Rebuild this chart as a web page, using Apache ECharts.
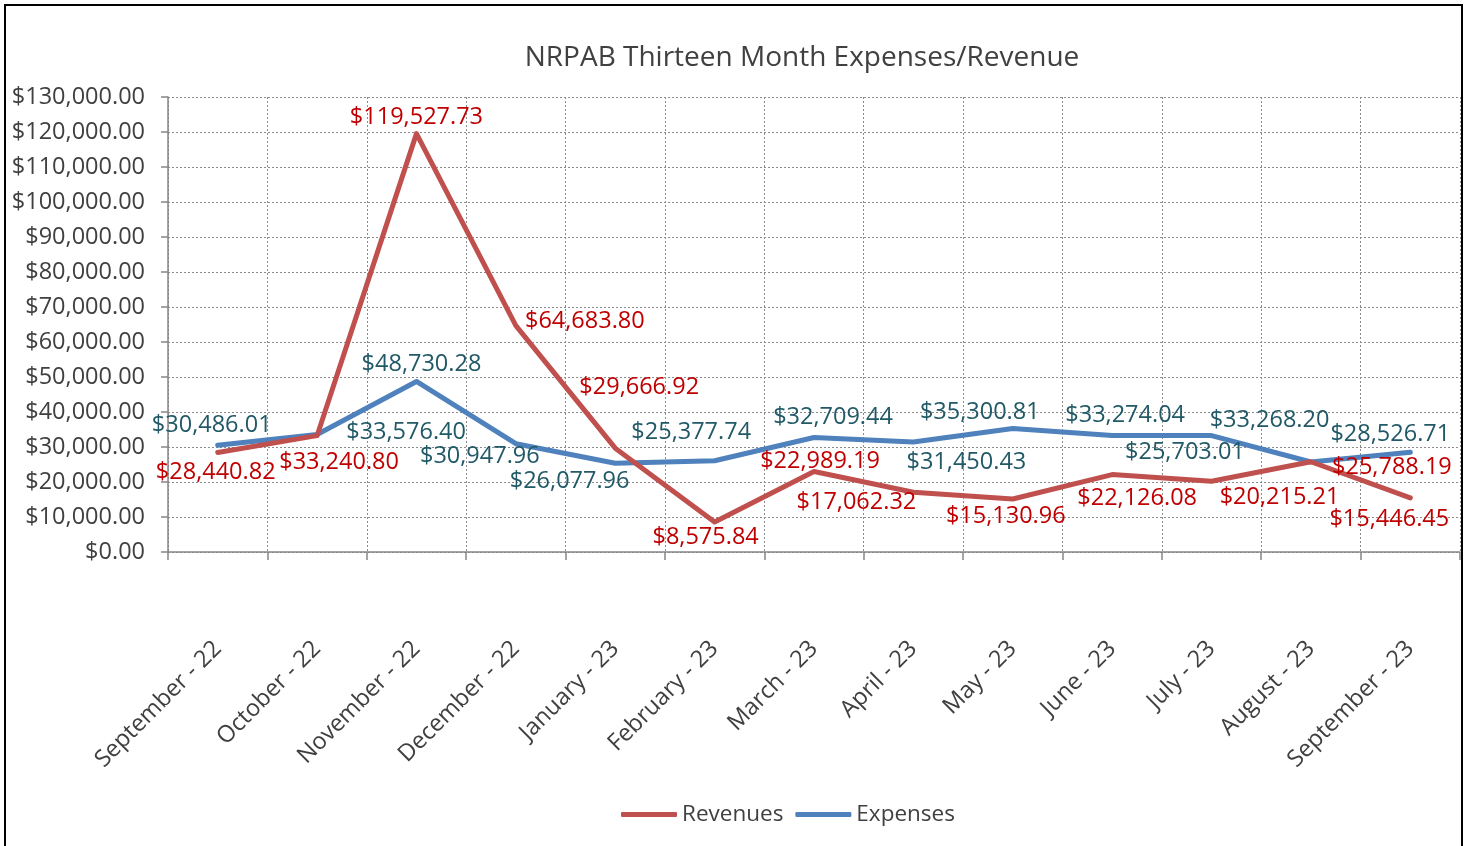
<!DOCTYPE html>
<html>
<head>
<meta charset="utf-8">
<title>NRPAB Thirteen Month Expenses/Revenue</title>
<script src="https://cdn.jsdelivr.net/npm/echarts@6/dist/echarts.min.js"></script>
<style>
html, body { margin: 0; padding: 0; background: #fff; overflow: hidden; }
#chart { width: 1468px; height: 846px; }
#frame {
  position: absolute; left: 4px; top: 4px; width: 1459px; height: 900px;
  border: 2px solid #000; box-sizing: border-box; pointer-events: none;
}
</style>
</head>
<body>
<div id="chart"></div>
<div id="frame"></div>
<script>
const months = ['September - 22', 'October - 22', 'November - 22', 'December - 22', 'January - 23',
  'February - 23', 'March - 23', 'April - 23', 'May - 23', 'June - 23', 'July - 23', 'August - 23',
  'September - 23'];

const revenues = [28440.82, 33240.80, 119527.73, 64683.80, 29666.92, 8575.84, 22989.19,
  17062.32, 15130.96, 22126.08, 20215.21, 25788.19, 15446.45];

const expenses = [30486.01, 33576.40, 48730.28, 30947.96, 25377.74, 26077.96, 32709.44,
  31450.43, 35300.81, 33274.04, 33268.20, 25703.01, 28526.71];

// where each data label sits, relative to its point (px)
const revLabelOffsets = [[-2, 20], [22, 27], [0, -16], [69, -4], [24, -61], [-9, 15], [6, -10],
  [-57, 10], [-7, 17], [25, 24], [68, 16], [81, 6], [-21, 21]];
const expLabelOffsets = [[-6, -20], [89, -2], [5, -17], [-36, 13], [76, -31], [-145, 21], [19, -20],
  [53, 20], [-33, -16], [13, -20], [58, -15], [-126, -10], [-20, -18]];

const FONT = '"Open Sans", "Noto Sans", sans-serif';
const TXT = 23.5;

function money(v) {
  return '$' + v.toFixed(2).replace(/\B(?=(\d{3})+(?!\d))/g, ',');
}

function withLabels(values, offsets) {
  return values.map((v, i) => ({value: v, label: {offset: offsets[i]}}));
}

const chart = echarts.init(document.getElementById('chart'));

chart.setOption({
  animation: false,
  textStyle: {fontFamily: FONT},
  graphic: [{
    type: 'text',
    x: 802,
    y: 58,
    style: {
      text: 'NRPAB Thirteen Month Expenses/Revenue',
      fill: '#404040',
      font: '28px ' + FONT,
      textAlign: 'center',
      textVerticalAlign: 'middle'
    }
  }],
  legend: {
    left: 616,
    top: 798,
    icon: 'roundRect',
    itemWidth: 56,
    itemHeight: 5,
    itemGap: 12,
    textStyle: {fontSize: 22.5, color: '#404040', fontFamily: FONT},
    data: ['Revenues', 'Expenses']
  },
  grid: {left: 168, right: 8, top: 97, bottom: 294},
  xAxis: {
    type: 'category',
    data: months,
    boundaryGap: true,
    axisLine: {lineStyle: {color: '#868686', width: 1.5}},
    axisTick: {show: true, interval: 0, length: 8, lineStyle: {color: '#868686', width: 1.5}},
    axisLabel: {interval: 0, rotate: 45, margin: 93, fontSize: TXT, color: '#404040', fontFamily: FONT},
    splitLine: {show: true, interval: 0, lineStyle: {color: '#8c8c8c', width: 1, type: [2, 2]}}
  },
  yAxis: {
    type: 'value',
    min: 0,
    max: 130000,
    interval: 10000,
    axisLine: {show: true, lineStyle: {color: '#868686', width: 1.5}},
    axisTick: {show: true, length: 7, lineStyle: {color: '#868686', width: 1.5}},
    axisLabel: {margin: 23, fontSize: TXT, color: '#404040', fontFamily: FONT, formatter: v => money(v)},
    splitLine: {show: true, lineStyle: {color: '#8c8c8c', width: 1, type: [2, 2]}}
  },
  series: [
    {
      name: 'Revenues',
      type: 'line',
      data: withLabels(revenues, revLabelOffsets),
      symbol: 'circle',
      symbolSize: 2,
      itemStyle: {color: '#C0504D'},
      lineStyle: {color: '#C0504D', width: 5, cap: 'round', join: 'round'},
      label: {
        show: true, position: 'inside', fontSize: TXT, color: '#C00000', fontFamily: FONT,
        formatter: p => money(p.value)
      },
      z: 3
    },
    {
      name: 'Expenses',
      type: 'line',
      data: withLabels(expenses, expLabelOffsets),
      symbol: 'circle',
      symbolSize: 2,
      itemStyle: {color: '#4F81BD'},
      lineStyle: {color: '#4F81BD', width: 5, cap: 'round', join: 'round'},
      label: {
        show: true, position: 'inside', fontSize: TXT, color: '#215967', fontFamily: FONT,
        formatter: p => money(p.value)
      },
      z: 2
    }
  ]
});
</script>
</body>
</html>
